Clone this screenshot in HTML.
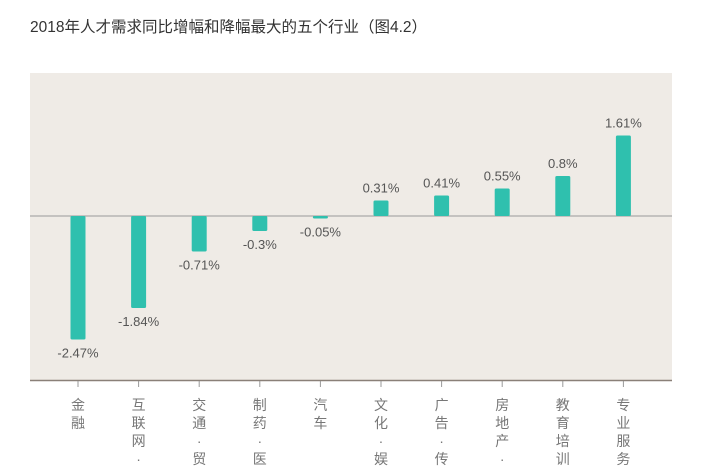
<!DOCTYPE html>
<html><head><meta charset="utf-8"><style>
html,body{margin:0;padding:0;background:#fff;width:703px;height:467px;overflow:hidden;}
svg{display:block;overflow:hidden;font-family:"Liberation Sans","Noto Sans CJK SC",sans-serif;}
</style></head><body>
<svg id="chart" width="703" height="467" viewBox="0 0 703 467">
<defs><clipPath id="frame"><rect x="0" y="0" width="703" height="467"/></clipPath></defs>
<text x="30" y="32" font-size="15.5" fill="#333">2018年人才需求同比增幅和降幅最大的五个行业（图4.2）</text>
<rect x="30" y="73" width="642" height="307" fill="#efebe6"/>
<line x1="30" y1="216" x2="672" y2="216" stroke="#999" stroke-width="1"/>
<line x1="30" y1="380.5" x2="672" y2="380.5" stroke="#8a8078" stroke-width="1.5"/>
<g id="bars" clip-path="url(#frame)"></g>
</svg>
<script>
const categories=["金融","互联网·IT","交通·贸易","制药·医疗","汽车","文化·娱乐","广告·传媒","房地产·建筑","教育培训","专业服务"];
const values=[-2.47,-1.84,-0.71,-0.3,-0.05,0.31,0.41,0.55,0.8,1.61];
const valueLabels=["-2.47%","-1.84%","-0.71%","-0.3%","-0.05%","0.31%","0.41%","0.55%","0.8%","1.61%"];
const NS="http://www.w3.org/2000/svg";
const g=document.getElementById('bars');
function xScale(i){return 78+i*60.6;}
function yScale(v){return 216-v*50;}
function mk(t,a){const e=document.createElementNS(NS,t);for(const k in a)e.setAttribute(k,a[k]);return e;}
categories.forEach((c,i)=>{
  const cx=xScale(i),v=values[i];
  const y0=yScale(0),y1=yScale(v);
  const r=mk('rect',{x:cx-7.5,y:Math.min(y0,y1),width:15,height:Math.max(1.5,Math.abs(y1-y0)),fill:'#2fc0ae',rx:1.5});
  
  
  g.appendChild(r);
  const t=mk('text',{x:cx,y:v>=0?y1-8:Math.max(y1,y0+2)+18,'font-size':13,fill:'#555','text-anchor':'middle'});
  t.textContent=valueLabels[i];
  
  
  g.appendChild(t);
  const tk=mk('line',{x1:cx,y1:381,x2:cx,y2:387,stroke:'#999','stroke-width':1});
  
  
  g.appendChild(tk);
  const lab=mk('text',{x:cx,y:410,'font-size':14,fill:'#777','text-anchor':'middle'});
  
  
  [...c].forEach((ch,j)=>{const yy=410+j*18;if(yy>475)return;const ts=mk('tspan',{x:cx,y:yy});ts.textContent=ch;lab.appendChild(ts);});
  g.appendChild(lab);
});
</script>
</body></html>
